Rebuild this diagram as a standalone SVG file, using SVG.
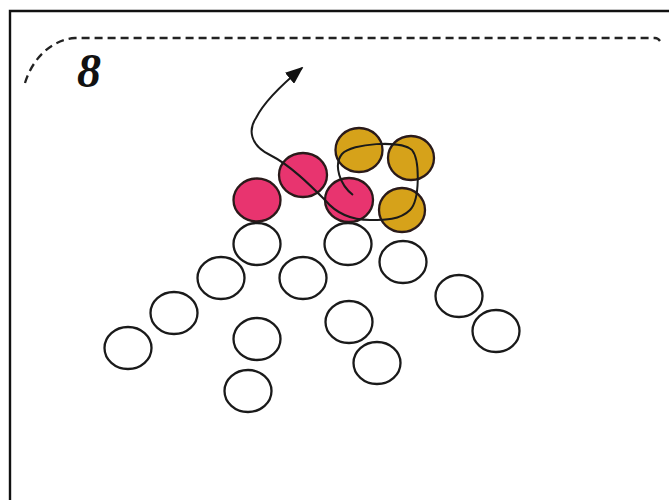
<svg xmlns="http://www.w3.org/2000/svg" width="669" height="500" viewBox="0 0 669 500">
<defs>
<style>
.pink{fill:#E8346F;stroke:#2a1a1a;stroke-width:2.3}
.gold{fill:#D6A21A;stroke:#2a1a1a;stroke-width:2.3}
.empty{fill:none;stroke:#1a1a1a;stroke-width:2.3}
.conn{fill:none;stroke:#1a1a1a;stroke-width:2}
</style>
<marker id="ah" viewBox="0 0 10 8" refX="9" refY="4" markerWidth="9" markerHeight="7.2" markerUnits="strokeWidth" orient="auto">
<path d="M0,0 L10,4 L0,8 Z" fill="#111"/>
</marker>
</defs>
<rect width="669" height="500" fill="#fff"/>
<path d="M10 500 V11 H669" fill="none" stroke="#111" stroke-width="2.4"/>
<path d="M25 83 C32 60 50 40 75 38 H655 Q658 38 660 41" fill="none" stroke="#222" stroke-width="2.3" stroke-dasharray="8,5"/>
<text x="77" y="87" font-family="Liberation Serif, serif" font-size="48" font-weight="bold" font-style="italic" fill="#111">8</text>
<g id="pink1"><ellipse class="pink" cx="257" cy="200" rx="23.5" ry="21.5"/></g>
<g id="pink2"><ellipse class="pink" cx="303" cy="175" rx="24" ry="22"/></g>
<g id="pink3"><ellipse class="pink" cx="349" cy="200" rx="24" ry="22"/></g>
<g id="gold1"><ellipse class="gold" cx="359" cy="150" rx="23.5" ry="22"/></g>
<g id="gold2"><ellipse class="gold" cx="411" cy="158" rx="23" ry="22"/></g>
<g id="gold3"><ellipse class="gold" cx="402" cy="210" rx="23" ry="22"/></g>
<g id="w1"><ellipse class="empty" cx="257" cy="244" rx="23.5" ry="21"/></g>
<g id="w2"><ellipse class="empty" cx="348" cy="244" rx="23.5" ry="21"/></g>
<g id="w3"><ellipse class="empty" cx="403" cy="262" rx="23.5" ry="21"/></g>
<g id="w4"><ellipse class="empty" cx="221" cy="278" rx="23.5" ry="21"/></g>
<g id="w5"><ellipse class="empty" cx="303" cy="278" rx="23.5" ry="21"/></g>
<g id="w6"><ellipse class="empty" cx="459" cy="296" rx="23.5" ry="21"/></g>
<g id="w7"><ellipse class="empty" cx="174" cy="313" rx="23.5" ry="21"/></g>
<g id="w8"><ellipse class="empty" cx="349" cy="322" rx="23.5" ry="21"/></g>
<g id="w9"><ellipse class="empty" cx="496" cy="331" rx="23.5" ry="21"/></g>
<g id="w10"><ellipse class="empty" cx="128" cy="348" rx="23.5" ry="21"/></g>
<g id="w11"><ellipse class="empty" cx="257" cy="339" rx="23.5" ry="21"/></g>
<g id="w12"><ellipse class="empty" cx="377" cy="363" rx="23.5" ry="21"/></g>
<g id="w13"><ellipse class="empty" cx="248" cy="391" rx="23.5" ry="21"/></g>
<g id="connectors">
<path class="conn" marker-end="url(#ah)" d="M353 195 C340 185 333 165 342 154 C352 143 400 140 412 150 C420 160 420 200 410 210 C400 220 385 220 370 220 C350 220 335 212 325 200 C310 185 290 165 270 155 C250 145 248 130 256 118 C265 100 285 82 302 68"/>
</g>
</svg>
